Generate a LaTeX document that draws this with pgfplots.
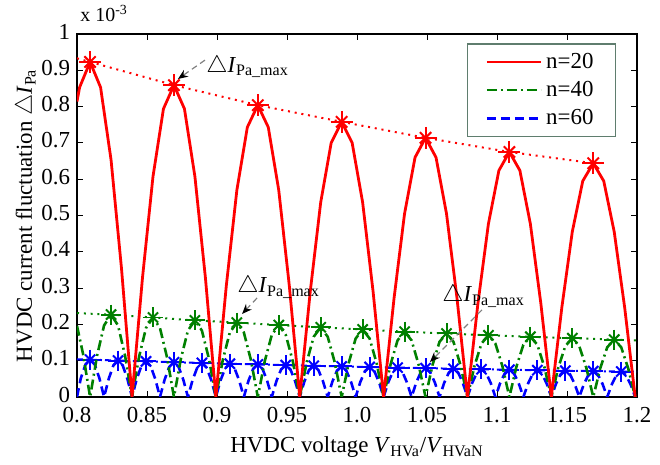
\documentclass[border=0pt]{standalone}
\usepackage{amsmath}
\usepackage{fontspec}
\setmainfont{Liberation Serif}
\usepackage{pgfplots}
\pgfplotsset{compat=1.18}
\usetikzlibrary{arrows.meta}
\definecolor{mred}{rgb}{1,0,0}
\definecolor{mgreen}{rgb}{0,0.5,0}
\definecolor{mblue}{rgb}{0,0,1}
\definecolor{legframe}{RGB}{95,125,110}
\begin{document}
\begin{tikzpicture}
\begin{axis}[
  scale only axis, width=280bp, height=181.5bp,
  xmin=0.8, xmax=1.2, ymin=0, ymax=1,
  clip mode=individual,
  xtick={0.8,0.85,0.9,0.95,1.0,1.05,1.1,1.15,1.2},
  xticklabels={0.8,0.85,0.9,0.95,1.0,1.05,1.1,1.15,1.2},
  ytick={0,0.1,0.2,0.3,0.4,0.5,0.6,0.7,0.8,0.9,1},
  yticklabels={0,0.1,0.2,0.3,0.4,0.5,0.6,0.7,0.8,0.9,1},
  tick align=inside, major tick length=3bp,
  axis line style={line width=0.6pt},
  every tick/.style={black, line width=0.5pt},
  ticklabel style={font=\fontsize{11.5}{13}\selectfont},
  xticklabel style={yshift=-1.8bp},
  yticklabel style={yshift=1.2bp},
  label style={font=\fontsize{11.5}{13}\selectfont},
  ylabel style={yshift=-4.5bp},
  xlabel={HVDC voltage \textit{V}\textsubscript{HVa}/\textit{V}\textsubscript{HVaN}},
  ylabel={HVDC current fluctuation $\triangle$\textit{I}\textsubscript{Pa}},
  legend style={at={(axis description cs:0.963,0.975)}, anchor=north east,
    draw=legframe, line width=0.8pt, font=\fontsize{11.5}{13}\selectfont,
    inner xsep=9bp, inner ysep=2.5bp, row sep=1bp,
    /tikz/every even column/.append style={column sep=10.5bp}},
  legend cell align=left,
  legend image code/.code={\draw[#1] (0bp,0bp) -- (27bp,0bp);},
]
\addlegendimage{mred, line width=1.4pt}
\addlegendentry{n=20}
\addlegendimage{mgreen, line width=1.3pt, dash pattern=on 5bp off 2bp on 1bp off 2bp}
\addlegendentry{n=40}
\addlegendimage{mblue, line width=1.3pt, dash pattern=on 4.5bp off 2.5bp}
\addlegendentry{n=60}

% ---- n=60 (blue)
\addplot[forget plot, mblue, line width=1.3pt, dash pattern=on 4.5bp off 2.5bp] coordinates {
(0.8,0) (0.8027,0.0515) (0.80603,0.0891) (0.80935,0.1029) (0.81268,0.0891) (0.81601,0.0515) (0.81934,0)
(0.82267,0.0502) (0.826,0.0869) (0.82932,0.1004) (0.83265,0.0869) (0.83598,0.0502) (0.8393,0)
(0.84263,0.0491) (0.84596,0.0850) (0.84928,0.0981) (0.85261,0.0850) (0.85594,0.0491) (0.85927,0)
(0.8626,0.0479) (0.86593,0.0830) (0.86925,0.0958) (0.87258,0.0830) (0.87591,0.0479) (0.87924,0)
(0.88257,0.0469) (0.8859,0.0811) (0.88922,0.0937) (0.89255,0.0811) (0.89588,0.0469) (0.8992,0)
(0.90253,0.0458) (0.90586,0.0793) (0.90918,0.0916) (0.91251,0.0793) (0.91584,0.0458) (0.91917,0)
(0.9225,0.0449) (0.92583,0.0777) (0.92915,0.0897) (0.93248,0.0777) (0.93581,0.0449) (0.93914,0)
(0.94247,0.0439) (0.9458,0.0760) (0.94912,0.0878) (0.95245,0.0760) (0.95578,0.0439) (0.9591,0)
(0.96243,0.0430) (0.96576,0.0745) (0.96908,0.0860) (0.97241,0.0745) (0.97574,0.0430) (0.97907,0)
(0.9824,0.0421) (0.98573,0.0729) (0.98905,0.0842) (0.99238,0.0729) (0.99571,0.0421) (0.99904,0)
(1.00237,0.0413) (1.0057,0.0715) (1.00902,0.0826) (1.01235,0.0715) (1.01568,0.0413) (1.019,0)
(1.02233,0.0405) (1.02566,0.0701) (1.02898,0.0810) (1.03231,0.0701) (1.03564,0.0405) (1.03897,0)
(1.0423,0.0397) (1.04563,0.0688) (1.04895,0.0794) (1.05228,0.0688) (1.05561,0.0397) (1.05894,0)
(1.06227,0.0390) (1.0656,0.0675) (1.06892,0.0779) (1.07225,0.0675) (1.07558,0.0390) (1.0789,0)
(1.08223,0.0383) (1.08556,0.0662) (1.08888,0.0765) (1.09221,0.0662) (1.09554,0.0383) (1.09887,0)
(1.1022,0.0376) (1.10553,0.0650) (1.10885,0.0751) (1.11218,0.0650) (1.11551,0.0376) (1.11884,0)
(1.12217,0.0369) (1.1255,0.0639) (1.12882,0.0738) (1.13215,0.0639) (1.13548,0.0369) (1.1388,0)
(1.14213,0.0363) (1.14546,0.0628) (1.14878,0.0725) (1.15211,0.0628) (1.15544,0.0363) (1.15877,0)
(1.1621,0.0357) (1.16543,0.0617) (1.16875,0.0713) (1.17208,0.0617) (1.17541,0.0357) (1.17874,0)
(1.18207,0.0351) (1.1854,0.0607) (1.18872,0.0701) (1.19205,0.0607) (1.19538,0.0351) (1.1987,0)
};
\addplot[forget plot, mblue, line width=1pt, dash pattern=on 3bp off 1.5bp on 1bp off 1.5bp] coordinates {
(0.8,0.104) (0.80935,0.1029) (0.82932,0.1004) (0.84928,0.0981) (0.86925,0.0958)
(0.88922,0.0937) (0.90918,0.0916) (0.92915,0.0897) (0.94912,0.0878) (0.96908,0.0860)
(0.98905,0.0842) (1.00902,0.0826) (1.02898,0.0810) (1.04895,0.0794) (1.06892,0.0779)
(1.08888,0.0765) (1.10885,0.0751) (1.12882,0.0738) (1.14878,0.0725) (1.16875,0.0713)
(1.18872,0.0701) (1.2,0.0695)
};
\pgfplotsset{bluestars/.style={forget plot, mblue, only marks, line width=1pt}}
\addplot[bluestars, mark=+, mark size=5bp] coordinates {
(0.80935,0.1029) (0.82932,0.1004) (0.84928,0.0981) (0.86925,0.0958)
(0.88922,0.0937) (0.90918,0.0916) (0.92915,0.0897) (0.94912,0.0878) (0.96908,0.0860)
(0.98905,0.0842) (1.00902,0.0826) (1.02898,0.0810) (1.04895,0.0794) (1.06892,0.0779)
(1.08888,0.0765) (1.10885,0.0751) (1.12882,0.0738) (1.14878,0.0725) (1.16875,0.0713)
(1.18872,0.0701)
};
\addplot[bluestars, mark=x, mark size=3.6bp] coordinates {
(0.80935,0.1029) (0.82932,0.1004) (0.84928,0.0981) (0.86925,0.0958)
(0.88922,0.0937) (0.90918,0.0916) (0.92915,0.0897) (0.94912,0.0878) (0.96908,0.0860)
(0.98905,0.0842) (1.00902,0.0826) (1.02898,0.0810) (1.04895,0.0794) (1.06892,0.0779)
(1.08888,0.0765) (1.10885,0.0751) (1.12882,0.0738) (1.14878,0.0725) (1.16875,0.0713)
(1.18872,0.0701)
};

% ---- n=40 (green)
\addplot[forget plot, mgreen, line width=1.3pt, dash pattern=on 5bp off 2bp on 1bp off 2bp] coordinates {
(0.8,0.196) (0.80436,0.118) (0.80935,0)
(0.81434,0.114) (0.81933,0.197) (0.82433,0.227) (0.82932,0.197) (0.83431,0.114) (0.8393,0)
(0.84429,0.110) (0.84928,0.190) (0.85428,0.219) (0.85927,0.190) (0.86426,0.110) (0.86925,0)
(0.87424,0.106) (0.87923,0.183) (0.88423,0.211) (0.88922,0.183) (0.89421,0.106) (0.8992,0)
(0.90419,0.103) (0.90918,0.178) (0.91418,0.205) (0.91917,0.178) (0.92416,0.103) (0.92915,0)
(0.93414,0.099) (0.93913,0.171) (0.94413,0.198) (0.94912,0.171) (0.95411,0.099) (0.9591,0)
(0.96409,0.096) (0.96908,0.166) (0.97408,0.192) (0.97907,0.166) (0.98406,0.096) (0.98905,0)
(0.99404,0.093) (0.99903,0.161) (1.00403,0.186) (1.00902,0.161) (1.01401,0.093) (1.019,0)
(1.02399,0.090) (1.02898,0.156) (1.03398,0.180) (1.03897,0.156) (1.04396,0.090) (1.04895,0)
(1.05394,0.088) (1.05893,0.152) (1.06393,0.175) (1.06892,0.152) (1.07391,0.088) (1.0789,0)
(1.08389,0.085) (1.08888,0.147) (1.09388,0.170) (1.09887,0.147) (1.10386,0.085) (1.10885,0)
(1.11384,0.083) (1.11883,0.144) (1.12383,0.166) (1.12882,0.144) (1.13381,0.083) (1.1388,0)
(1.14379,0.081) (1.14878,0.140) (1.15378,0.162) (1.15877,0.140) (1.16376,0.081) (1.16875,0)
(1.17374,0.079) (1.17873,0.137) (1.18373,0.158) (1.18872,0.137) (1.19371,0.079) (1.1987,0)
};
\addplot[forget plot, mgreen, line width=1pt, dash pattern=on 1bp off 2.4bp] coordinates {
(0.8,0.231) (0.82433,0.227) (0.85428,0.219) (0.88423,0.211) (0.91418,0.205)
(0.94413,0.198) (0.97408,0.192) (1.00403,0.186) (1.03398,0.180) (1.06393,0.175)
(1.09388,0.170) (1.12383,0.166) (1.15378,0.162) (1.18373,0.158) (1.2,0.156)
};
\pgfplotsset{greenstars/.style={forget plot, mgreen, only marks, line width=1pt}}
\addplot[greenstars, mark=+, mark size=5bp] coordinates {
(0.82433,0.227) (0.85428,0.219) (0.88423,0.211) (0.91418,0.205)
(0.94413,0.198) (0.97408,0.192) (1.00403,0.186) (1.03398,0.180) (1.06393,0.175)
(1.09388,0.170) (1.12383,0.166) (1.15378,0.162) (1.18373,0.158)
};
\addplot[greenstars, mark=x, mark size=3.6bp] coordinates {
(0.82433,0.227) (0.85428,0.219) (0.88423,0.211) (0.91418,0.205)
(0.94413,0.198) (0.97408,0.192) (1.00403,0.186) (1.03398,0.180) (1.06393,0.175)
(1.09388,0.170) (1.12383,0.166) (1.15378,0.162) (1.18373,0.158)
};

% ---- n=20 (red)
\addplot[forget plot, mred, line width=1.4pt] coordinates {
(0.8,0.814) (0.80186,0.853) (0.80935,0.923) (0.81684,0.853) (0.82433,0.653) (0.83181,0.353) (0.8393,0)
(0.84679,0.329) (0.85427,0.607) (0.86176,0.794) (0.86925,0.859) (0.87674,0.794) (0.88423,0.607) (0.89171,0.329) (0.8992,0)
(0.90669,0.308) (0.91417,0.569) (0.92166,0.743) (0.92915,0.804) (0.93664,0.743) (0.94413,0.569) (0.95161,0.308) (0.9591,0)
(0.96659,0.290) (0.97407,0.536) (0.98156,0.700) (0.98905,0.758) (0.99654,0.700) (1.00403,0.536) (1.01151,0.290) (1.0190,0)
(1.02649,0.273) (1.03397,0.505) (1.04146,0.660) (1.04895,0.714) (1.05644,0.660) (1.06393,0.505) (1.07141,0.273) (1.0789,0)
(1.08639,0.258) (1.09387,0.477) (1.10136,0.624) (1.10885,0.675) (1.11634,0.624) (1.12383,0.477) (1.13131,0.258) (1.1388,0)
(1.14629,0.246) (1.15377,0.455) (1.16126,0.595) (1.16875,0.644) (1.17624,0.595) (1.18373,0.455) (1.19121,0.246) (1.1987,0)
};
\addplot[forget plot, mred, line width=1pt, dash pattern=on 1bp off 2.4bp] coordinates {
(0.8,0.933) (0.80935,0.923) (0.86925,0.859) (0.92915,0.804) (0.98905,0.758)
(1.04895,0.714) (1.10885,0.675) (1.16875,0.644)
};
\pgfplotsset{redstars/.style={forget plot, mred, only marks, line width=1pt}}
\addplot[redstars, mark=+, mark size=5.5bp] coordinates {
(0.80935,0.923) (0.86925,0.859) (0.92915,0.804) (0.98905,0.758)
(1.04895,0.714) (1.10885,0.675) (1.16875,0.644)
};
\addplot[redstars, mark=x, mark size=4bp] coordinates {
(0.80935,0.923) (0.86925,0.859) (0.92915,0.804) (0.98905,0.758)
(1.04895,0.714) (1.10885,0.675) (1.16875,0.644)
};

% ---- annotations
\node[anchor=base west, font=\fontsize{10}{12}\selectfont, inner sep=0pt]
  at (rel axis cs:0,1) [xshift=1.5bp, yshift=6bp] {x 10\textsuperscript{-3}};
\draw[densely dashed, gray, line width=0.6pt, -{Stealth[color=black,length=5bp,width=4bp]}]
  (axis cs:0.8914,0.928) -- (axis cs:0.8721,0.876);
\node[anchor=base west, font=\fontsize{11.5}{13}\selectfont, inner sep=0pt]
  at (axis cs:0.8921,0.895) {$\triangle$\textit{I}\textsubscript{Pa\_max}};
\draw[densely dashed, gray, line width=0.6pt, -{Stealth[color=black,length=5bp,width=4bp]}]
  (axis cs:0.9286,0.2727) -- (axis cs:0.9179,0.2287);
\node[anchor=base west, font=\fontsize{11.5}{13}\selectfont, inner sep=0pt]
  at (axis cs:0.9143,0.2865) {$\triangle$\textit{I}\textsubscript{Pa\_max}};
\draw[densely dashed, gray, line width=0.6pt, -{Stealth[color=black,length=5bp,width=4bp]}]
  (axis cs:1.0893,0.240) -- (axis cs:1.0521,0.0964);
\node[anchor=base west, font=\fontsize{11.5}{13}\selectfont, inner sep=0pt]
  at (axis cs:1.0607,0.262) {$\triangle$\textit{I}\textsubscript{Pa\_max}};
\end{axis}
\path (current axis.south west) ++(-38.5bp,-28.5bp) rectangle ++(330bp,227bp);
\end{tikzpicture}
\end{document}
